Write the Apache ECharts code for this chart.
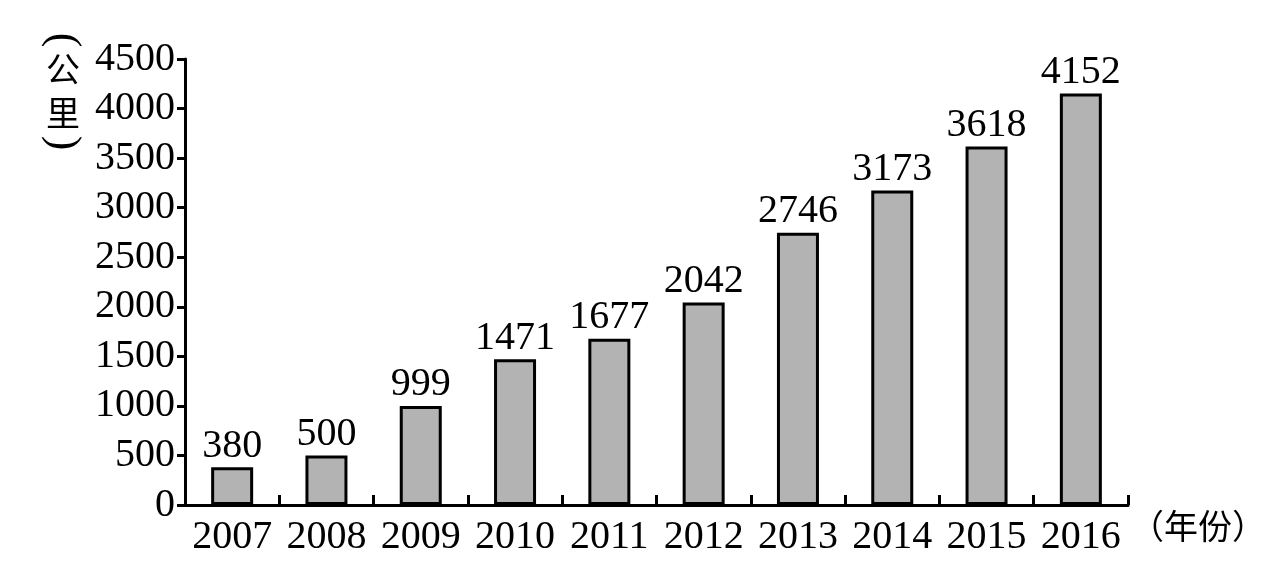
<!DOCTYPE html>
<html>
<head>
<meta charset="utf-8">
<script src="https://cdn.jsdelivr.net/npm/echarts@6/dist/echarts.min.js"></script>
<style>html,body{margin:0;padding:0;background:#fff}#c{width:1269px;height:566px}</style>
</head>
<body>
<div id="c"></div>
<script>
const categories = ['2007','2008','2009','2010','2011','2012','2013','2014','2015','2016'];
const values = [380, 500, 999, 1471, 1677, 2042, 2746, 3173, 3618, 4152];
const yTicks = [0, 500, 1000, 1500, 2000, 2500, 3000, 3500, 4000, 4500];
const yNameChars = ['公', '里'];
const xName = '（年份）';

const serif = '"Liberation Serif", "Times New Roman", serif';
const cjk = '"Noto Sans CJK SC", sans-serif';
const chart = echarts.init(document.getElementById('c'));
chart.setOption({
  animation: false,
  backgroundColor: '#fff',
  grid: { left: 185, right: 140, top: 59, bottom: 61, containLabel: false },
  xAxis: {
    type: 'category',
    data: categories,
    boundaryGap: true,
    name: xName,
    nameLocation: 'end',
    nameGap: 2,
    nameTextStyle: { fontFamily: cjk, fontSize: 34, color: '#000', verticalAlign: 'top', padding: [4, 0, 0, 0] },
    axisLine: { lineStyle: { color: '#000', width: 3 } },
    axisTick: { show: true, inside: true, length: 10, lineStyle: { color: '#000', width: 3 } },
    axisLabel: { color: '#000', fontFamily: serif, fontSize: 40, margin: 12, interval: 0 },
    splitLine: { show: false }
  },
  yAxis: {
    type: 'value',
    min: yTicks[0],
    max: yTicks[yTicks.length - 1],
    interval: 500,
    axisLine: { show: true, lineStyle: { color: '#000', width: 3 } },
    axisTick: { show: true, inside: false, length: 8, lineStyle: { color: '#000', width: 3 } },
    axisLabel: { color: '#000', fontFamily: serif, fontSize: 40, margin: 10, formatter: v => String(v) },
    splitLine: { show: false }
  },
  graphic: [
    { type: 'text', x: 63, y: 40, rotation: -Math.PI / 2,
      style: { text: '(', fontFamily: serif, fontSize: 44, fill: '#000', align: 'center', verticalAlign: 'middle' } },
    { type: 'text', x: 63, y: 69,
      style: { text: yNameChars[0], fontFamily: cjk, fontSize: 34, fill: '#000', align: 'center', verticalAlign: 'middle' } },
    { type: 'text', x: 63, y: 113,
      style: { text: yNameChars[1], fontFamily: cjk, fontSize: 34, fill: '#000', align: 'center', verticalAlign: 'middle' } },
    { type: 'text', x: 63, y: 143, rotation: -Math.PI / 2,
      style: { text: ')', fontFamily: serif, fontSize: 44, fill: '#000', align: 'center', verticalAlign: 'middle' } }
  ],
  series: [{
    type: 'bar',
    data: values,
    barWidth: 42,
    itemStyle: { color: '#b3b3b3', borderColor: '#000', borderWidth: 3 },
    label: { show: true, position: 'top', distance: 1, color: '#000', fontFamily: serif, fontSize: 40 }
  }]
});
</script>
</body>
</html>
